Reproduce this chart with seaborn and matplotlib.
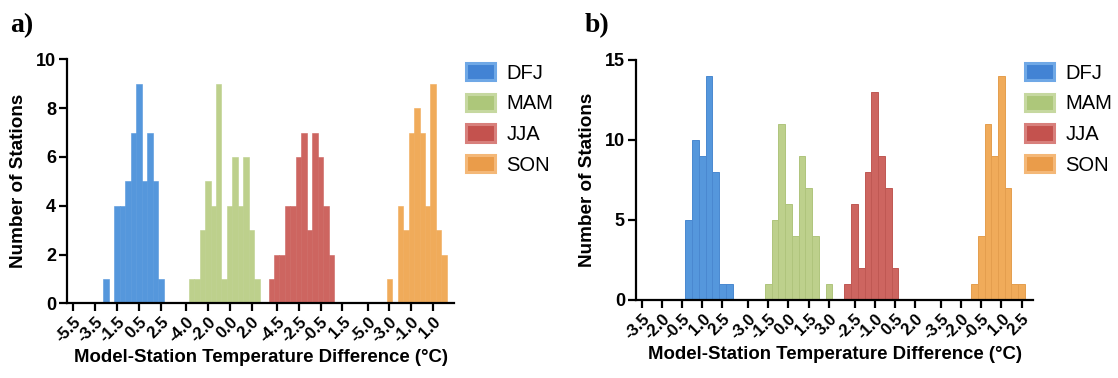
import numpy as np
import pandas as pd
import matplotlib
matplotlib.use("Agg")
import matplotlib.pyplot as plt
import seaborn as sns
from matplotlib.patches import Patch

sns.set_style("ticks")
plt.rcParams["font.family"] = ["Liberation Sans", "DejaVu Sans"]
plt.rcParams["text.color"] = "black"
plt.rcParams["axes.labelcolor"] = "black"
plt.rcParams["xtick.color"] = "black"
plt.rcParams["ytick.color"] = "black"

seasons = ["DFJ", "MAM", "JJA", "SON"]

# ---- panel a: bin centres (°C) and number of stations per season ----
a_dfj_bins = [-2.5, -1.5, -1.0, -0.5, 0.0, 0.5, 1.0, 1.5, 2.0, 2.5]
a_dfj_counts = [1, 4, 4, 5, 7, 9, 5, 7, 5, 1]
a_mam_bins = [-3.5, -3.0, -2.5, -2.0, -1.5, -1.0, -0.5, 0.0, 0.5, 1.0, 1.5, 2.0, 2.5]
a_mam_counts = [1, 1, 3, 5, 4, 9, 1, 4, 6, 4, 6, 3, 1]
a_jja_bins = [-5.0, -4.5, -4.0, -3.5, -3.0, -2.5, -2.0, -1.5, -1.0, -0.5, 0.0, 0.5]
a_jja_counts = [1, 2, 2, 4, 4, 6, 7, 3, 7, 6, 4, 2]
a_son_bins = [-3.0, -2.0, -1.5, -1.0, -0.5, 0.0, 0.5, 1.0, 1.5, 2.0]
a_son_counts = [1, 4, 3, 7, 8, 7, 4, 9, 3, 2]
a_tick_values = [[-5.5, -3.5, -1.5, 0.5, 2.5],
                 [-4.0, -2.0, 0.0, 2.0],
                 [-4.5, -2.5, -0.5, 1.5],
                 [-5.0, -3.0, -1.0, 1.0]]

# ---- panel b ----
b_dfj_bins = [0.0, 0.5, 1.0, 1.5, 2.0, 2.5, 3.0]
b_dfj_counts = [5, 10, 9, 14, 8, 1, 1]
b_mam_bins = [-1.5, -1.0, -0.5, 0.0, 0.5, 1.0, 1.5, 2.0, 3.0]
b_mam_counts = [1, 5, 11, 6, 4, 9, 7, 4, 1]
b_jja_bins = [-3.0, -2.5, -2.0, -1.5, -1.0, -0.5, 0.0, 0.5]
b_jja_counts = [1, 6, 2, 8, 13, 9, 7, 2]
b_son_bins = [-1.0, -0.5, 0.0, 0.5, 1.0, 1.5, 2.0, 2.5]
b_son_counts = [1, 4, 11, 9, 14, 7, 1, 1]
b_tick_values = [[-3.5, -2.0, -0.5, 1.0, 2.5],
                 [-3.0, -1.5, 0.0, 1.5, 3.0],
                 [-2.5, -1.0, 0.5, 2.0],
                 [-3.5, -2.0, -0.5, 1.0, 2.5]]

palette = {"DFJ": "#5597DC", "MAM": "#BDD08C", "JJA": "#CD6560", "SON": "#F0AB5A"}
edge_dark = {"DFJ": "#4A88D0", "MAM": "#AFC47C", "JJA": "#BF5853", "SON": "#E49E4E"}
legend_face = {"DFJ": "#4283D4", "MAM": "#ADC77A", "JJA": "#C4524E", "SON": "#EA9C4A"}
legend_edge = {"DFJ": "#6FA8E6", "MAM": "#C6D8A0", "JJA": "#D8807C", "SON": "#F4B878"}


def draw_panel(ax, bins, counts, shift, tick_values, xlim, ymax, yticks, edged):
    frames = []
    for k, (s, b, c) in enumerate(zip(seasons, bins, counts)):
        frames.append(pd.DataFrame({
            "season": s,
            "pos": np.round(np.asarray(b) + k * shift, 3),
            "count": c,
        }))
    df = pd.concat(frames, ignore_index=True)
    sns.barplot(data=df, x="pos", y="count", hue="season", hue_order=seasons,
                palette=palette, native_scale=True, width=1.0, saturation=1,
                errorbar=None, legend=False, linewidth=0, ax=ax)
    for bar in ax.patches:
        fc = bar.get_facecolor()
        if edged:
            # thin darker outline between adjacent bins
            for s in seasons:
                if np.allclose(fc[:3], matplotlib.colors.to_rgb(palette[s])):
                    bar.set_edgecolor(edge_dark[s])
            bar.set_linewidth(0.7)
        else:
            bar.set_edgecolor(fc)
            bar.set_linewidth(0.4)

    tick_pos, tick_lab = [], []
    for k, tv in enumerate(tick_values):
        for t in tv:
            tick_pos.append(t + k * shift)
            tick_lab.append(f"{t:.1f}")
    ax.set_xticks(tick_pos)
    ax.set_xticklabels(tick_lab, rotation=45, ha="right", rotation_mode="anchor",
                       fontsize=12, fontweight="bold")
    ax.set_xlim(*xlim)
    ax.set_ylim(0, ymax)
    ax.set_yticks(yticks)
    ax.set_yticklabels([str(v) for v in yticks], fontsize=13, fontweight="bold")
    ax.tick_params(axis="both", direction="out", length=6, width=1.6, color="black", pad=2)
    for side in ("left", "bottom"):
        ax.spines[side].set_linewidth(1.6)
        ax.spines[side].set_color("black")
    sns.despine(ax=ax)
    ax.set_xlabel("Model-Station Temperature Difference (°C)", fontsize=13.4,
                  fontweight="bold", labelpad=3)
    ax.set_ylabel("Number of Stations", fontsize=13.6, fontweight="bold", labelpad=6)

    handles = [Patch(facecolor=legend_face[s], edgecolor=legend_edge[s], linewidth=2.2)
               for s in seasons]
    return handles


fig = plt.figure(figsize=(11.18, 3.78), dpi=100)
W, H = 1118, 378
ax_a = fig.add_axes([67 / W, 1 - 303.3 / H, (454 - 67) / W, (303.3 - 59.3) / H])
ax_b = fig.add_axes([636 / W, 1 - 300 / H, (1033 - 636) / W, (300 - 60) / H])

h = draw_panel(ax_a,
               [a_dfj_bins, a_mam_bins, a_jja_bins, a_son_bins],
               [a_dfj_counts, a_mam_counts, a_jja_counts, a_son_counts],
               8.8, a_tick_values, (-6.07, 29.3), 10, [0, 2, 4, 6, 8, 10], edged=False)
draw_panel(ax_b,
           [b_dfj_bins, b_mam_bins, b_jja_bins, b_son_bins],
           [b_dfj_counts, b_mam_counts, b_jja_counts, b_son_counts],
           7.4, b_tick_values, (-3.92, 25.55), 15, [0, 5, 10, 15], edged=True)

for ax, x0 in ((ax_a, 466), (ax_b, 1025)):
    ax.legend(h, seasons, loc="upper left", bbox_to_anchor=(x0 / W, 1 - 63 / H),
              bbox_transform=fig.transFigure, frameon=False, fontsize=14.5,
              handlelength=1.45, handleheight=0.95, handletextpad=0.55,
              labelspacing=0.55, borderpad=0, borderaxespad=0)

fig.text(10 / W, 1 - 32 / H, "a)", fontsize=20, fontweight="bold",
         family="Liberation Serif")
fig.text(585 / W, 1 - 32 / H, "b)", fontsize=20, fontweight="bold",
         family="Liberation Serif")

fig.savefig("out.png", dpi=100)
